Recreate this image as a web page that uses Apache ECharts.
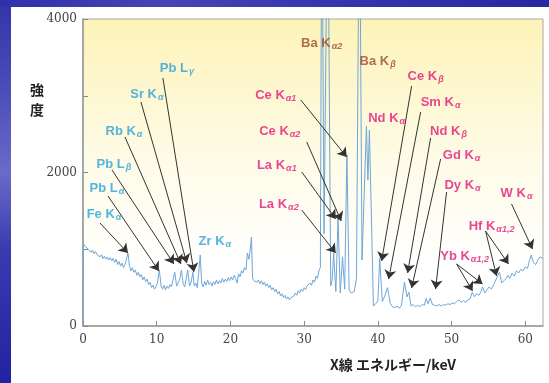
<!DOCTYPE html>
<html>
<head>
<meta charset="utf-8">
<script src="https://cdn.jsdelivr.net/npm/echarts@6/dist/echarts.min.js"></script>
<style>
  html, body { margin: 0; padding: 0; background: #fff; }
  #chart { width: 549px; height: 383px; }
</style>
</head>
<body>
<div id="chart"></div>
<script>
// spectrum: [keV, counts]
const spectrum = [
  [0, 0], [0.05, 1070], [0.3, 1040], [0.5, 1060], [0.7, 1000], [0.9, 1020], [1.1, 960], [1.3, 990],
  [1.5, 940], [1.7, 970], [1.9, 930], [2.1, 950], [2.3, 900], [2.5, 930], [2.7, 880], [2.9, 910],
  [3.1, 870], [3.3, 900], [3.5, 860], [3.7, 890], [3.9, 850], [4.1, 880], [4.3, 830], [4.5, 870],
  [4.7, 800], [4.9, 840], [5.1, 780], [5.3, 820], [5.5, 760], [5.7, 800], [5.9, 780], [6.1, 950],
  [6.3, 780], [6.5, 720], [6.7, 760], [6.9, 700], [7.1, 730], [7.3, 660], [7.5, 700], [7.7, 640],
  [7.9, 670], [8.1, 600], [8.3, 640], [8.5, 580], [8.7, 610], [8.9, 540], [9.1, 570], [9.3, 500],
  [9.5, 530], [9.7, 480], [9.9, 510], [10.1, 560], [10.35, 730], [10.6, 520], [10.8, 480], [11.0, 530],
  [11.2, 470], [11.4, 520], [11.6, 490], [11.8, 540], [12.0, 510], [12.25, 620], [12.45, 700], [12.7, 520],
  [12.9, 510], [13.1, 600], [13.35, 730], [13.6, 540], [13.8, 510], [14.0, 620], [14.2, 730], [14.45, 520],
  [14.65, 560], [14.9, 700], [15.1, 520], [15.3, 560], [15.5, 500], [15.7, 700], [15.9, 925], [16.1, 560],
  [16.3, 510], [16.5, 580], [16.7, 530], [16.9, 600], [17.1, 540], [17.3, 570], [17.5, 520], [17.7, 580],
  [17.9, 540], [18.1, 600], [18.3, 550], [18.5, 590], [18.7, 560], [18.9, 620], [19.1, 570], [19.3, 610],
  [19.5, 580], [19.7, 630], [19.9, 590], [20.1, 640], [20.3, 600], [20.5, 660], [20.7, 620], [20.9, 560],
  [21.1, 680], [21.3, 640], [21.5, 720], [21.7, 690], [21.9, 760], [22.1, 730], [22.3, 950], [22.5, 870],
  [22.7, 1000], [22.85, 1160], [23.0, 620], [23.2, 590], [23.4, 610], [23.6, 570], [23.8, 600], [24.0, 550],
  [24.2, 590], [24.4, 540], [24.6, 570], [24.8, 520], [25.0, 550], [25.2, 500], [25.4, 530], [25.6, 470],
  [25.8, 500], [26.0, 450], [26.2, 480], [26.4, 420], [26.6, 450], [26.8, 390], [27.0, 420], [27.2, 370],
  [27.4, 400], [27.6, 350], [27.8, 380], [28.0, 340], [28.2, 370], [28.4, 350], [28.6, 390], [28.8, 430],
  [29.0, 400], [29.2, 460], [29.4, 430], [29.6, 480], [29.8, 450], [30.0, 500], [30.2, 470], [30.4, 520],
  [30.6, 500], [30.8, 560], [31.0, 530], [31.2, 600], [31.4, 570], [31.6, 650], [31.8, 620], [32.0, 720],
  [32.2, 760], [32.4, 6000], [32.7, 1200], [33.2, 6000], [33.6, 520], [33.8, 600], [34.0, 950], [34.3, 450],
  [34.6, 1400], [34.9, 430], [35.2, 900], [35.5, 480], [35.8, 2230], [36.1, 470], [36.4, 430], [36.8, 450],
  [37.1, 620], [37.5, 6000], [37.85, 860], [38.45, 2600], [38.65, 1900], [38.85, 2550], [39.4, 260], [39.7, 290],
  [40.0, 330], [40.25, 880], [40.6, 320], [40.9, 380], [41.3, 500], [41.7, 290], [42.0, 250], [42.3, 240],
  [42.6, 260], [42.9, 230], [43.2, 270], [43.6, 570], [43.95, 380], [44.2, 440], [44.5, 260], [44.8, 280],
  [45.1, 250], [45.4, 270], [45.7, 250], [46.0, 280], [46.3, 270], [46.55, 360], [46.8, 290], [47.1, 365],
  [47.4, 280], [47.7, 270], [48.0, 260], [48.3, 280], [48.6, 260], [48.9, 280], [49.2, 270], [49.5, 290],
  [49.8, 280], [50.1, 300], [50.4, 290], [50.7, 320], [51.0, 340], [51.3, 310], [51.6, 330], [51.9, 310],
  [52.2, 340], [52.5, 350], [52.8, 440], [53.1, 380], [53.4, 420], [53.7, 400], [54.0, 450], [54.2, 510],
  [54.5, 430], [54.8, 470], [55.1, 510], [55.4, 480], [55.7, 540], [56.0, 600], [56.25, 580], [56.5, 700],
  [56.8, 560], [57.1, 590], [57.4, 620], [57.65, 660], [57.9, 620], [58.2, 690], [58.5, 650], [58.8, 720],
  [59.1, 690], [59.4, 740], [59.7, 720], [60.0, 770], [60.3, 750], [60.55, 850], [60.8, 925], [61.1, 830],
  [61.4, 800], [61.7, 860], [62.0, 900], [62.4, 880]
];

// peak labels: text, [keV, counts] of label centre, colour group
const labelText = [
  'Pb L{s|γ}', 'Sr K{s|α}', 'Rb K{s|α}', 'Pb L{s|β}', 'Pb L{s|α}', 'Fe K{s|α}', 'Zr K{s|α}',
  'Ce K{s|α1}', 'Ce K{s|α2}', 'La K{s|α1}', 'La K{s|α2}', 'Nd K{s|α}', 'Ce K{s|β}', 'Sm K{s|α}',
  'Nd K{s|β}', 'Gd K{s|α}', 'Dy K{s|α}', 'W K{s|α}', 'Hf K{s|α1,2}', 'Yb K{s|α1,2}',
  'Ba K{s|α2}', 'Ba K{s|β}'
];
const labelPos = [
  [12.74, 3362], [8.67, 3023], [5.56, 2541], [4.20, 2111], [3.25, 1798], [2.85, 1459], [17.89, 1108],
  [26.15, 3010], [26.69, 2541], [26.29, 2098], [26.56, 1590], [41.19, 2710], [46.48, 3258], [48.51, 2919],
  [49.59, 2541], [51.36, 2228], [51.49, 1837], [58.81, 1733], [55.42, 1303], [51.76, 912],
  [32.38, 3687], [39.97, 3453]
];
const labelGroup = [
  'blue', 'blue', 'blue', 'blue', 'blue', 'blue', 'blue',
  'pink', 'pink', 'pink', 'pink', 'pink', 'pink', 'pink',
  'pink', 'pink', 'pink', 'pink', 'pink', 'pink',
  'brown', 'brown'
];
// arrows: [from, to] in [keV, counts]
const arrows = [
  [[2.30, 1342], [6.10, 951]],
  [[3.39, 1694], [10.30, 717]],
  [[3.93, 2033], [12.33, 808]],
  [[5.69, 2463], [13.28, 808]],
  [[7.86, 2919], [14.09, 821]],
  [[10.84, 3231], [15.04, 704]],
  [[29.54, 2945], [35.77, 2202]],
  [[30.35, 2398], [35.03, 1368]],
  [[29.67, 2007], [34.28, 1394]],
  [[29.67, 1511], [34.28, 951]],
  [[44.58, 3127], [40.51, 847]],
  [[45.80, 2788], [41.46, 612]],
  [[47.15, 2450], [44.04, 691]],
  [[48.51, 2176], [44.58, 495]],
  [[49.32, 1746], [47.83, 482]],
  [[58.13, 1590], [60.98, 1003]],
  [[54.61, 1238], [56.10, 652]],
  [[54.61, 1238], [57.72, 808]],
  [[50.68, 808], [52.85, 456]],
  [[50.68, 808], [54.20, 547]]
];

const groupColor = { blue: '#27a3dc', pink: '#e3187b', brown: '#9c4a2c' };

const chart = echarts.init(document.getElementById('chart'));

const option = {
  animation: false,
  backgroundColor: '#fff',
  graphic: [
    {
      type: 'rect', left: 0, top: 0, z: 0,
      shape: { width: 11, height: 383 },
      style: {
        fill: new echarts.graphic.LinearGradient(0, 0, 0, 1, [
          { offset: 0, color: '#3434aa' },
          { offset: 0.2, color: '#4848b8' },
          { offset: 0.45, color: '#6a6ac8' },
          { offset: 0.65, color: '#3a3ab0' },
          { offset: 1, color: '#2222a2' }
        ])
      }
    },
    {
      type: 'rect', left: 0, top: 0, z: 0,
      shape: { width: 549, height: 7 },
      style: {
        fill: new echarts.graphic.LinearGradient(0, 0, 1, 0, [
          { offset: 0, color: '#3030a8' },
          { offset: 0.3, color: '#4545b6' },
          { offset: 0.6, color: '#3535ac' },
          { offset: 1, color: '#2828a4' }
        ])
      }
    },
    {
      type: 'text', left: 30, top: 80,
      style: {
        text: '強\n度', fill: '#222', lineHeight: 20,
        font: 'bold 14px "Noto Sans CJK JP"'
      }
    },
    {
      type: 'text', left: 330, top: 358,
      style: {
        text: 'X線 エネルギー/keV', fill: '#222',
        font: 'bold 14px "Noto Sans CJK JP"'
      }
    }
  ],
  grid: {
    left: 83, right: 6, top: 19, bottom: 57,
    show: true,
    borderColor: '#a8a8a8',
    borderWidth: 1,
    backgroundColor: new echarts.graphic.LinearGradient(0, 0, 0, 1, [
      { offset: 0, color: '#fdf3b8' },
      { offset: 0.45, color: '#fefbe6' },
      { offset: 0.8, color: '#ffffff' },
      { offset: 1, color: '#ffffff' }
    ])
  },
  xAxis: {
    type: 'value', min: 0, max: 62.4, interval: 10,
    axisLine: { lineStyle: { color: '#999', width: 1.5 } },
    axisTick: { inside: true, length: 5, lineStyle: { color: '#888' } },
    axisLabel: {
      color: '#444', fontSize: 12, fontFamily: 'DejaVu Serif', margin: 8,
      showMaxLabel: false
    },
    splitLine: { show: false }
  },
  yAxis: {
    type: 'value', min: 0, max: 4000, interval: 1000,
    axisLine: { show: true, lineStyle: { color: '#999', width: 1.5 } },
    axisTick: { show: true, inside: true, length: 5, lineStyle: { color: '#888' } },
    axisLabel: {
      color: '#444', fontSize: 12, fontFamily: 'DejaVu Serif', margin: 6,
      formatter: v => (v % 2000 === 0 ? String(v) : '')
    },
    splitLine: { show: false }
  },
  series: [
    {
      type: 'line',
      data: spectrum,
      showSymbol: false,
      clip: true,
      lineStyle: { color: '#6ea6d8', width: 1 },
      z: 3
    },
    {
      type: 'lines',
      coordinateSystem: 'cartesian2d',
      data: arrows.map(a => ({ coords: a })),
      symbol: ['none', 'arrow'],
      symbolSize: [0, 9],
      lineStyle: { color: '#333', width: 1, opacity: 1 },
      itemStyle: { color: '#222' },
      z: 4
    },
    {
      type: 'scatter',
      symbolSize: 0,
      data: labelPos.map((p, i) => ({
        value: p,
        label: {
          show: true,
          position: 'inside',
          formatter: labelText[i],
          color: groupColor[labelGroup[i]],
          fontSize: 13,
          fontWeight: 'bold',
          fontFamily: 'Liberation Sans',
          rich: {
            s: {
              color: groupColor[labelGroup[i]],
              fontSize: 9,
              fontStyle: 'italic',
              fontWeight: 'bold',
              fontFamily: 'Liberation Sans',
              padding: [7, 0, 0, 1]
            }
          }
        }
      })),
      z: 5
    }
  ]
};

chart.setOption(option);
</script>
</body>
</html>
